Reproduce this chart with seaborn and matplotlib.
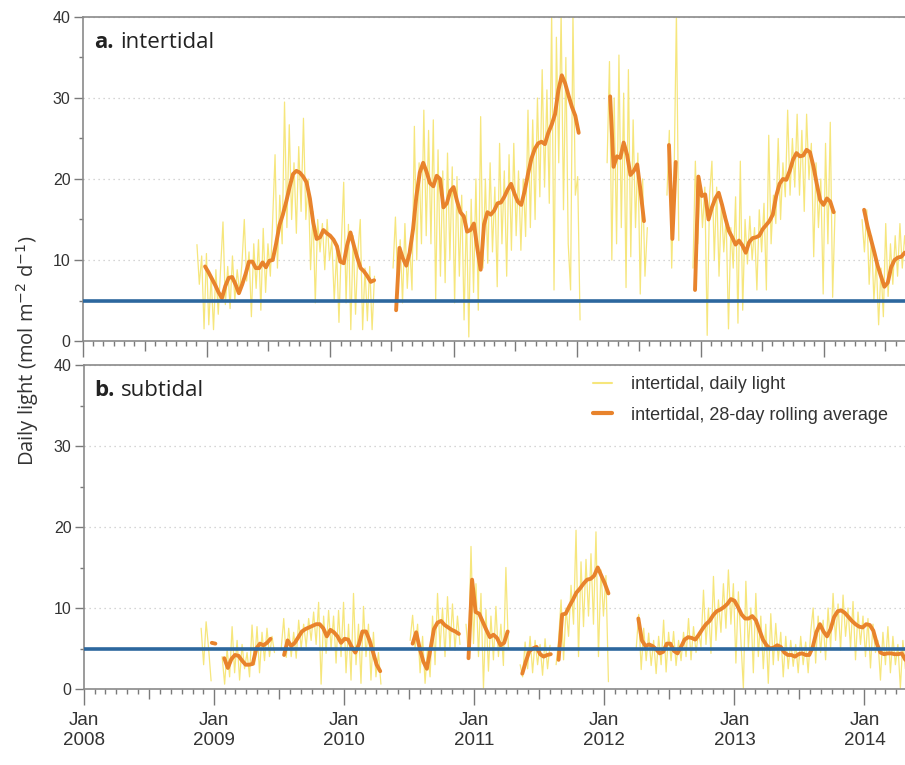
import matplotlib
matplotlib.use("Agg")
import matplotlib.pyplot as plt
import matplotlib.dates as mdates
from matplotlib.lines import Line2D
from matplotlib.ticker import MultipleLocator, FuncFormatter
import pandas as pd
import seaborn as sns

# readings kept every DAILY_STEP days (daily light) / ROLL_STEP days (28-day mean)
DAILY_STEP = 7
ROLL_STEP = 10
THRESHOLD = 5

# ---------------- a. intertidal ----------------
inter_daily_1 = [11.9, 7.0, 10.5, 1.5, 10.8, 2.0, 8.0, 1.4, 8.8, 3.3, 9.0, 14.7, 4.5, 9.2, 4.0, 10.5,
                 5.0, 8.8, 6.0, 9.5, 15.0, 7.4, 11.0, 3.0, 12.0, 6.5, 12.5, 3.8, 13.9, 6.0, 12.0, 8.0,
                 15.0, 23.0, 9.0, 18.0, 12.0, 29.5, 14.0, 26.7, 15.0, 22.0, 13.3, 24.0, 16.0, 27.5, 15.0,
                 20.0, 8.8, 16.0, 4.7, 15.0, 11.0, 14.5, 8.8, 15.0, 10.0, 12.4, 5.0, 11.0, 2.3, 12.0,
                 19.6, 4.7, 14.4, 1.4, 13.0, 3.3, 11.0, 15.0, 1.4, 9.0, 2.5, 9.2, 1.4, 8.0]
inter_daily_2 = [9.0, 15.3, 6.7, 12.5, 4.7, 14.5, 6.5, 12.0, 6.3, 26.5, 10.0, 22.0, 12.0, 28.5, 13.0, 26.0,
                 12.0, 27.3, 5.0, 23.6, 8.0, 21.0, 7.2, 23.2, 10.0, 21.5, 4.7, 20.3, 8.0, 18.0, 2.6, 16.0,
                 0.5, 17.5, 6.0, 20.0, 3.8, 27.7, 9.0, 20.0, 9.6, 22.0, 11.0, 19.0, 6.7, 24.4, 12.0, 21.0,
                 8.0, 23.0, 11.2, 24.4, 13.0, 21.0, 11.2, 20.0, 12.9, 28.5, 14.0, 27.3, 15.0, 30.0, 17.8,
                 33.5, 19.0, 31.0, 17.0, 40.5, 6.3, 37.5, 22.0, 40.5, 16.2, 35.0, 12.0, 6.3, 40.5, 18.0,
                 20.3, 2.6]
inter_daily_3 = [22.0, 34.5, 10.0, 30.0, 12.0, 35.3, 14.0, 30.6, 6.6, 33.5, 10.4, 27.3, 14.0, 23.2, 5.8,
                 20.0, 8.0, 14.0]
inter_daily_4 = [18.0, 26.0, 9.0, 20.0, 40.5, 12.4]
inter_daily_5 = [9.0, 22.2, 12.0, 20.0, 14.0, 19.0, 0.7, 18.0, 22.2, 10.0, 19.0, 8.0, 17.0, 11.0, 15.4, 1.5,
                 14.0, 9.0, 17.8, 2.2, 22.2, 3.8, 15.0, 9.5, 15.4, 10.0, 14.0, 6.3, 16.2, 11.0, 17.0, 6.3,
                 25.4, 12.0, 18.0, 14.5, 25.0, 15.0, 22.0, 17.8, 28.5, 18.0, 25.0, 19.0, 28.0, 18.0, 26.0,
                 16.0, 28.0, 20.0, 24.4, 10.4, 22.0, 14.0, 20.0, 5.8, 24.4, 12.0, 27.0, 5.4, 16.0]
inter_daily_6 = [15.0, 11.0, 16.2, 7.0, 13.0, 5.0, 10.0, 2.0, 9.0, 3.0, 14.5, 5.5, 12.0, 7.0, 13.0, 8.0,
                 14.5, 9.0, 13.0, 10.0]
inter_daily_start = ["2008-12-03", "2010-07-06", "2012-03-30", "2012-09-23", "2012-12-09", "2014-04-23"]

inter_roll_1 = [9.2, 8.5, 7.7, 6.9, 6.0, 5.3, 6.8, 7.8, 7.9, 7.0, 5.9, 7.0, 8.3, 9.8, 9.8, 9.0, 9.0, 9.7,
                9.1, 9.9, 10.0, 12.0, 14.3, 15.6, 17.2, 19.0, 20.6, 21.0, 20.8, 20.3, 19.6, 17.6, 14.6,
                12.6, 12.8, 13.7, 13.3, 13.0, 12.5, 11.7, 9.8, 9.6, 11.8, 13.4, 11.8, 10.3, 9.0, 8.6, 8.0,
                7.3, 7.5]
inter_roll_2 = [3.8, 11.5, 10.2, 9.3, 10.9, 13.8, 17.9, 20.8, 22.0, 20.9, 19.5, 19.1, 20.4, 20.0, 16.5,
                17.0, 18.5, 19.0, 17.3, 15.9, 15.4, 13.5, 13.7, 14.5, 11.5, 8.8, 14.4, 15.9, 15.6, 16.1,
                17.0, 17.1, 17.8, 18.7, 19.4, 18.2, 17.2, 16.8, 18.5, 20.6, 22.5, 23.7, 24.4, 24.6, 24.3,
                25.7, 26.7, 28.0, 31.0, 32.8, 31.8, 30.3, 28.9, 27.8, 25.7]
inter_roll_3 = [30.2, 21.5, 22.8, 22.6, 24.5, 23.0, 20.5, 21.0, 21.8, 18.5, 14.8]
inter_roll_4 = [24.2, 12.6, 22.1]
inter_roll_5 = [6.3, 20.3, 17.9, 18.1, 15.0, 16.5, 17.6, 18.3, 16.8, 15.1, 13.6, 12.8, 11.9, 12.4, 11.8,
                10.9, 12.2, 12.7, 12.8, 13.0, 13.8, 14.3, 14.8, 15.6, 17.9, 19.4, 20.0, 19.9, 21.0, 22.4,
                23.2, 22.8, 22.9, 23.6, 23.3, 21.6, 19.4, 17.4, 16.8, 17.6, 17.2, 15.9]
inter_roll_6 = [16.2, 14.2, 12.6, 11.0, 9.3, 8.0, 6.7, 7.2, 9.1, 10.0, 10.3, 10.4, 10.9, 11.0]
inter_roll_start = ["2008-12-27", "2010-07-15", "2012-04-08", "2012-09-29", "2012-12-15", "2014-04-29"]

# ---------------- b. subtidal ----------------
sub_daily_1 = [7.5, 3.0, 8.3, 5.0, 1.0]
sub_daily_2 = [4.0, 0.6, 5.0, 1.5, 7.7, 2.0, 6.0, 1.1, 5.5, 2.5, 4.5, 1.5, 7.9, 3.0, 7.7, 2.0, 7.0, 3.5,
               7.5, 4.0, 6.5, 4.5]
sub_daily_3 = [5.0, 8.7, 3.9, 7.5, 4.0, 7.0, 3.8, 8.5, 5.0, 8.0, 5.2, 8.7, 6.0, 9.5, 5.5, 10.7, 0.6, 9.0,
               4.4, 9.7, 5.0, 9.0, 3.2, 9.7, 4.0, 10.7, 2.0, 8.0, 1.1, 11.8, 3.0, 8.0, 0.7, 10.2, 4.0, 8.0,
               1.1, 7.0, 1.5, 4.5, 0.6]
sub_daily_4 = [6.0, 9.1, 5.0, 8.0, 2.0, 6.5, 0.7, 5.0, 1.5, 9.0, 3.0, 11.8, 5.0, 10.0, 4.0, 11.4, 5.0,
               10.5, 4.8, 9.0, 5.5]
sub_daily_5 = [8.0, 4.0, 17.6, 5.6, 13.0, 4.0, 11.8, 0.1, 9.8, 2.2, 9.0, 3.6, 10.2, 4.0, 8.0, 2.9, 15.0, 5.0]
sub_daily_6 = [3.0, 1.5, 5.8, 2.5, 6.5, 2.0, 6.0, 3.0, 5.5, 1.7, 6.2, 2.5, 5.4]
sub_daily_7 = [3.0, 6.0, 11.0, 3.6, 10.0, 6.5, 12.8, 8.0, 19.6, 4.0, 15.7, 7.7, 16.0, 9.0, 16.7, 8.0, 19.4,
               4.0, 14.7, 9.0, 14.0, 0.9]
sub_daily_8 = [5.0, 9.2, 2.4, 7.5, 3.5, 6.9, 2.9, 6.0, 1.9, 6.5, 3.0, 8.5, 2.1, 7.0, 3.5, 7.1, 2.9, 6.0, 3.5,
               7.0, 4.0, 8.7, 3.6, 7.7, 4.5, 7.0, 5.2, 12.2, 5.5, 10.0, 4.4, 13.9, 6.0, 11.0, 7.0, 13.0,
               7.5, 14.7, 8.0, 13.0, 3.2, 12.0, 6.0, 0.1, 13.3, 5.0, 10.0, 2.0, 11.8, 4.0, 9.0, 2.5, 8.0,
               0.7, 9.3, 3.0, 8.1, 3.5, 7.0, 1.5, 6.5, 2.5, 6.0, 2.8, 5.5, 2.0, 6.5, 3.0, 5.8, 2.0, 7.0,
               10.0, 3.2, 9.0, 4.5, 8.5, 3.6, 10.0, 5.0, 11.8, 6.0, 10.5, 4.8, 11.6, 6.5, 10.0, 5.0, 10.8,
               3.6, 9.5, 5.5, 9.0, 4.0, 8.7, 2.6, 8.0, 4.5, 6.0, 1.1, 7.0, 3.0, 7.7, 2.0, 6.5, 3.0, 5.5,
               0.1, 6.0, 2.5]
sub_daily_start = ["2008-11-25", "2009-01-23", "2009-07-08", "2010-07-05", "2010-12-09", "2011-05-10",
                   "2011-08-19", "2012-03-31"]

sub_roll_1 = [5.7, 5.6]
sub_roll_2 = [3.8, 2.6, 3.7, 4.2, 4.1, 3.5, 3.0, 3.0, 3.1, 5.0, 5.6, 5.4, 5.7, 6.2]
sub_roll_3 = [4.2, 6.0, 5.3, 5.7, 6.4, 7.1, 7.4, 7.6, 7.8, 8.0, 8.0, 7.5, 6.5, 7.3, 7.0, 6.5, 5.7, 6.2,
              6.1, 5.2, 4.5, 5.5, 7.1, 7.1, 6.0, 4.5, 3.0, 2.2]
sub_roll_4 = [5.6, 7.0, 5.0, 3.4, 2.5, 4.9, 7.4, 8.2, 8.4, 7.9, 7.6, 7.3, 7.1, 6.8]
sub_roll_5 = [3.8, 13.5, 9.5, 9.3, 8.3, 7.3, 6.4, 6.7, 6.3, 5.4, 5.7, 7.1]
sub_roll_6 = [1.9, 3.4, 4.7, 5.0, 5.2, 4.3, 4.0, 4.2, 4.3]
sub_roll_7 = [3.6, 9.2, 9.3, 10.2, 11.0, 11.9, 12.4, 13.0, 13.5, 13.6, 14.0, 15.0, 14.0, 13.0, 11.8]
sub_roll_8 = [8.7, 6.0, 5.3, 5.5, 5.3, 4.9, 4.4, 4.6, 5.6, 5.6, 4.7, 4.4, 5.2, 6.1, 6.4, 6.3, 6.1, 6.7,
              7.4, 8.0, 8.4, 9.1, 9.6, 9.8, 10.1, 10.5, 11.1, 10.9, 10.1, 9.2, 8.7, 8.7, 9.0, 8.5, 7.3,
              6.1, 5.4, 5.0, 5.1, 5.4, 5.2, 4.5, 4.2, 4.2, 4.0, 4.3, 4.4, 4.2, 4.2, 5.2, 7.0, 8.0, 7.1,
              6.5, 7.4, 8.9, 9.6, 9.7, 9.4, 8.9, 8.4, 8.0, 7.7, 7.6, 8.0, 7.9, 7.2, 5.6, 4.5, 4.3, 4.4,
              4.4, 4.3, 4.3, 4.4, 3.6]
sub_roll_start = ["2008-12-25", "2009-01-29", "2009-07-16", "2010-07-12", "2010-12-16", "2011-05-16",
                  "2011-08-26", "2012-04-06"]

legend_labels = ["intertidal, daily light", "intertidal, 28-day rolling average"]

YELLOW = "#f6e67c"
ORANGE = "#e8832c"
BLUE = "#2c679e"
AXIS_GREY = "#8a8a8a"
TEXT = "#333333"
TITLE_FONT = ["Open Sans", "DejaVu Sans"]


def series_frame(starts, segments, step):
    parts = []
    for i, (start, vals) in enumerate(zip(starts, segments)):
        dates = pd.date_range(start, periods=len(vals), freq=f"{step}D")
        parts.append(pd.DataFrame({"date": dates, "light": vals, "seg": i}))
    return pd.concat(parts, ignore_index=True)


def jan_label(x, pos):
    d = mdates.num2date(x)
    return d.strftime("%b\n%Y") if d.month == 1 else ""


sns.set_theme(style="ticks")
plt.rcParams["font.family"] = ["Liberation Sans", "DejaVu Sans"]

fig = plt.figure(figsize=(9.05, 7.65), dpi=100)
ax_a = fig.add_axes([83 / 905, 1 - 341 / 765, 822 / 905, 324 / 765])
ax_b = fig.add_axes([84 / 905, 1 - 689 / 765, 821 / 905, 324 / 765])

panels = [
    (ax_a, inter_daily_start, [inter_daily_1, inter_daily_2, inter_daily_3, inter_daily_4, inter_daily_5,
                               inter_daily_6],
     inter_roll_start, [inter_roll_1, inter_roll_2, inter_roll_3, inter_roll_4, inter_roll_5, inter_roll_6],
     "a.", "intertidal", "2014-08-28", False),
    (ax_b, sub_daily_start, [sub_daily_1, sub_daily_2, sub_daily_3, sub_daily_4, sub_daily_5, sub_daily_6,
                             sub_daily_7, sub_daily_8],
     sub_roll_start, [sub_roll_1, sub_roll_2, sub_roll_3, sub_roll_4, sub_roll_5, sub_roll_6, sub_roll_7,
                      sub_roll_8],
     "b.", "subtidal", "2014-04-25", True),
]

for ax, d_start, d_segs, r_start, r_segs, tag, name, end, show in panels:
    daily = series_frame(d_start, d_segs, DAILY_STEP)
    roll = series_frame(r_start, r_segs, ROLL_STEP)
    sns.lineplot(data=daily, x="date", y="light", units="seg", estimator=None, sort=False,
                 color=YELLOW, lw=0.9, ax=ax, legend=False, zorder=2)
    sns.lineplot(data=roll, x="date", y="light", units="seg", estimator=None, sort=False,
                 color=ORANGE, lw=2.8, ax=ax, legend=False, zorder=3)
    ax.axhline(THRESHOLD, color=BLUE, lw=2.6, zorder=4)

    ax.set_xlim(pd.Timestamp("2008-01-01"), pd.Timestamp(end))
    ax.set_ylim(0, 40)
    ax.set(xlabel="", ylabel="")
    ax.yaxis.set_major_locator(MultipleLocator(10))
    ax.yaxis.set_minor_locator(MultipleLocator(5))
    ax.xaxis.set_major_locator(mdates.MonthLocator(bymonth=[1, 7]))
    ax.xaxis.set_minor_locator(mdates.MonthLocator())
    ax.xaxis.set_major_formatter(FuncFormatter(jan_label))
    ax.grid(axis="y", which="major", color="#c8c8c8", ls=(0, (1, 3)), lw=0.9)

    for side in ["left", "top", "bottom"]:
        ax.spines[side].set_color(AXIS_GREY)
        ax.spines[side].set_linewidth(1.2)
    ax.spines["right"].set_visible(False)

    ax.tick_params(which="both", direction="out", color="#7a7a7a", width=1.0, labelcolor=TEXT)
    ax.tick_params(axis="y", which="major", length=6.5, labelsize=11.5, pad=2.5)
    ax.tick_params(axis="y", which="minor", length=3)
    ax.tick_params(axis="x", which="major", length=11.5, labelsize=13.5, pad=5, labelbottom=show)
    ax.tick_params(axis="x", which="minor", length=3.6)
    for lab in ax.get_xticklabels():
        lab.set_linespacing(1.25)

    ax.text(0.013, 0.903, tag, transform=ax.transAxes, fontsize=16, fontweight="bold",
            family=TITLE_FONT, color="#222222", va="baseline")
    ax.text(0.045, 0.903, name, transform=ax.transAxes, fontsize=16, family=TITLE_FONT,
            color="#222222", va="baseline")

fig.text(28 / 905, 1 - 351 / 765, "Daily light (mol m$^{-2}$ d$^{-1}$)", rotation=90, ha="center",
         va="center", fontsize=14.5, family=TITLE_FONT, color=TEXT)

handles = [Line2D([], [], color=YELLOW, lw=1.5), Line2D([], [], color=ORANGE, lw=3)]
ax_b.legend(handles, legend_labels, loc="upper left", bbox_to_anchor=(593 / 905, 1 - 376 / 765),
            bbox_transform=fig.transFigure, frameon=False, fontsize=13, labelcolor=TEXT,
            handlelength=1.05, handletextpad=1.05, labelspacing=0.75, borderaxespad=0, borderpad=0)

# July ticks are mid-length, January ticks long
fig.canvas.draw()
for ax in (ax_a, ax_b):
    for tick in ax.xaxis.get_major_ticks():
        if mdates.num2date(tick.get_loc()).month != 1:
            tick.tick1line.set_markersize(7)

fig.savefig("out.png", dpi=100)
